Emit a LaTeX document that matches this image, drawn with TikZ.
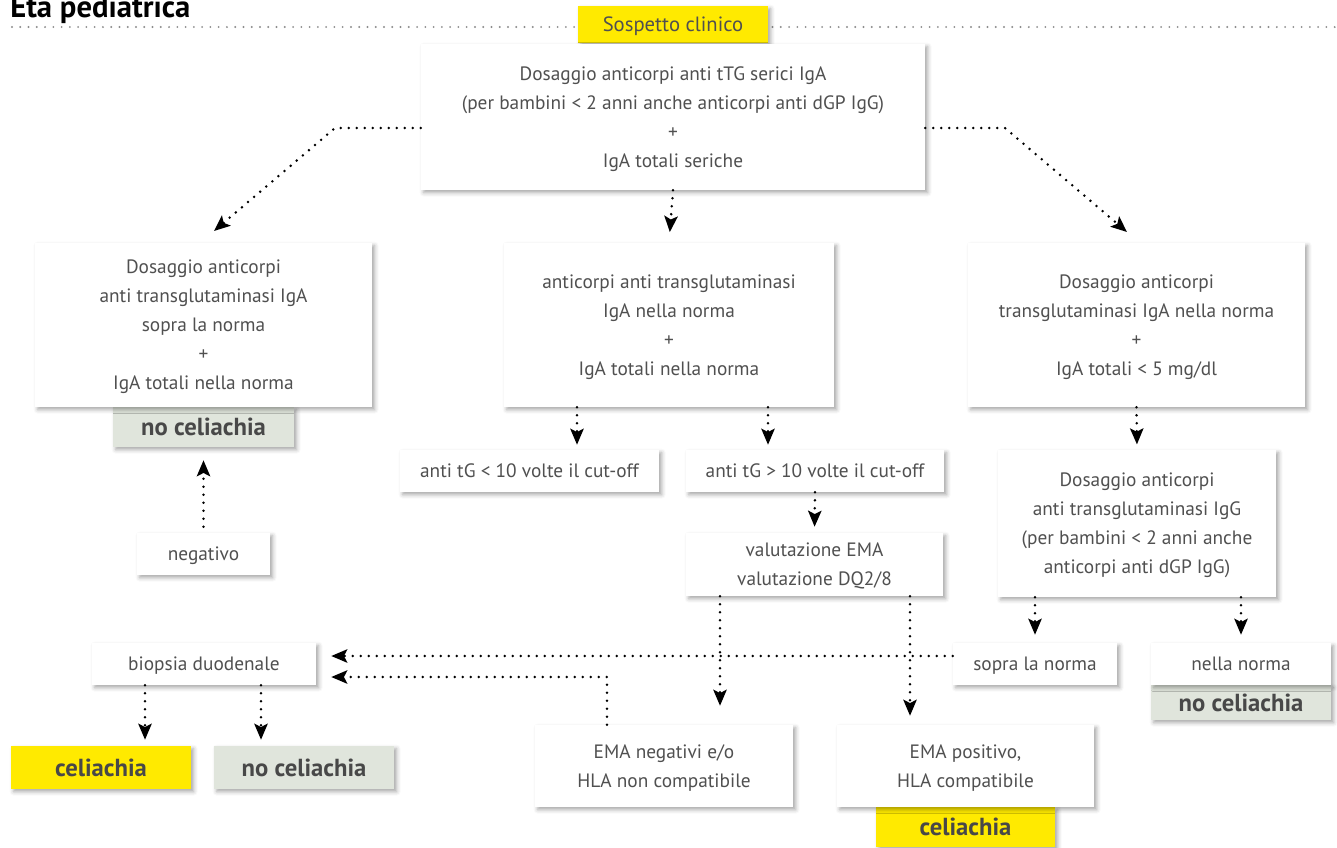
\documentclass[tikz,border=0pt]{standalone}
\usepackage{fontspec}
\setmainfont{PT Sans}
\usepackage{xcolor}
\usepackage{tikz}
\usetikzlibrary{arrows.meta,shadows.blur}
\definecolor{ylw}{RGB}{255, 234, 0}
\definecolor{nogray}{RGB}{224, 229, 220}
\definecolor{txtgray}{RGB}{80, 80, 80}
\definecolor{boldgray}{RGB}{72, 72, 72}
\definecolor{dotgray}{RGB}{140, 140, 140}

\tikzset{
  box/.style = {fill = white, text = txtgray, align = center, inner sep = 0pt,
    text depth = 0pt, font = \fontsize{14.5}{21.75}\selectfont,
    blur shadow = {shadow xshift = 2pt, shadow yshift = -2pt,
      shadow blur radius = 3pt, shadow opacity = 35}},
  tag/.style = {box, fill = ylw, font = \fontsize{15.5}{21}\selectfont},
  yesbox/.style = {box, fill = ylw, text = boldgray,
    font = \fontsize{18.5}{21}\selectfont\bfseries},
  nobox/.style = {yesbox, fill = nogray},
  title/.style = {inner sep = 0pt, font = \fontsize{23}{25}\selectfont\bfseries},
  header/.style = {dotgray, line width = 1.6pt, line cap = round,
    dash pattern = on 0pt off 6.2pt},
  link/.style = {line width = 2.1pt, line cap = round,
    dash pattern = on 0pt off 6pt,
    -{Stealth[length = 12pt, width = 10pt, inset = 2.5pt]}}
}

\begin{document}
\begin{tikzpicture}[x = 0.75pt, y = -0.75pt]
  \useasboundingbox (0,0) rectangle (1337,847);
  % header
  \node[title, anchor = base west] (title) at (10,17) {Età pediatrica};
  \coordinate (hl) at (12,27);
  \coordinate (hr) at (1337,27);
  \draw[header] (hl) -- (hr);
  \node[tag, minimum width = 142.5pt, minimum height = 27.75pt] (susp) at (673,24.5) {Sospetto clinico};
  \node[box, minimum width = 378pt, minimum height = 109.5pt] (main) at (673,117)
    {Dosaggio anticorpi anti tTG serici IgA\\(per bambini < 2 anni anche anticorpi anti dGP IgG)\\+\\IgA totali seriche};

  % second row
  \node[nobox, minimum width = 135.75pt, minimum height = 30pt] (l1no) at (203.5,427) {no celiachia};
  \node[box, minimum width = 252.75pt, minimum height = 123pt] (l1) at (203.5,325)
    {Dosaggio anticorpi\\anti transglutaminasi IgA\\sopra la norma\\+\\IgA totali nella norma};
  \node[box, minimum width = 247.5pt, minimum height = 123pt] (m1) at (669,325)
    {anticorpi anti transglutaminasi\\IgA nella norma\\+\\IgA totali nella norma};
  \node[box, minimum width = 252.75pt, minimum height = 123pt] (r1) at (1136.5,325)
    {Dosaggio anticorpi\\transglutaminasi IgA nella norma\\+\\IgA totali < 5 mg/dl};

  % third row
  \node[box, minimum width = 194.25pt, minimum height = 31.5pt] (lo) at (529.5,471) {anti tG < 10 volte il cut-off};
  \node[box, minimum width = 193.5pt, minimum height = 31.5pt] (hi) at (815,471) {anti tG > 10 volte il cut-off};
  \node[box, minimum width = 192.75pt, minimum height = 47.25pt] (ema) at (814.5,564.5) {valutazione EMA\\valutazione DQ2/8};
  \node[box, minimum width = 208.5pt, minimum height = 110.25pt] (r2) at (1137,523.5)
    {Dosaggio anticorpi\\anti transglutaminasi IgG\\(per bambini < 2 anni anche\\anticorpi anti dGP IgG)};
  \node[box, minimum width = 99.75pt, minimum height = 31.5pt] (neg) at (203.5,554) {negativo};

  % fourth row
  \node[box, minimum width = 168pt, minimum height = 31.5pt] (biop) at (204,664) {biopsia duodenale};
  \node[box, minimum width = 123pt, minimum height = 31.5pt] (sopra) at (1035,664) {sopra la norma};
  \node[nobox, minimum width = 135pt, minimum height = 26.25pt] (nellano) at (1241,702.5) {no celiachia};
  \node[box, minimum width = 135pt, minimum height = 31.5pt] (nella) at (1241,664) {nella norma};

  % bottom row
  \node[yesbox, minimum width = 135pt, minimum height = 32.25pt] (bioyes) at (101,767.5) {celiachia};
  \node[nobox, minimum width = 135pt, minimum height = 32.25pt] (biono) at (304,767.5) {no celiachia};
  \node[yesbox, minimum width = 134.25pt, minimum height = 30pt] (posyes) at (965.5,827) {celiachia};
  \node[box, minimum width = 193.5pt, minimum height = 61.5pt] (emaneg) at (664,766) {EMA negativi e/o\\HLA non compatibile};
  \node[box, minimum width = 192.75pt, minimum height = 61.5pt] (emapos) at (965.5,766) {EMA positivo,\\HLA compatibile};

  % connectors
  \coordinate (lbend) at (335,128);
  \coordinate (ltip) at (214,231);
  \coordinate (rbend) at (1005,128);
  \coordinate (rtip) at (1127,232);
  \coordinate (lox) at (577,0);
  \coordinate (hix) at (768,0);
  \coordinate (negx) at (720,0);
  \coordinate (posx) at (910,0);
  \coordinate (yesx) at (145,0);
  \coordinate (nox) at (261,0);
  \coordinate (row1) at (0,656);
  \coordinate (nbend) at (607,677);
  \draw[link] (lbend -| main.west) -- (lbend) -- (ltip);
  \draw[link] (rbend -| main.east) -- (rbend) -- (rtip);
  \draw[link, shorten > = 8pt] (main.south) -- (m1.north);
  \draw[link, shorten > = 3.75pt] (m1.south -| lox) -- (lo.north -| lox);
  \draw[link, shorten > = 3.75pt] (m1.south -| hix) -- (hi.north -| hix);
  \draw[link, shorten > = 4.5pt] (hi.south) -- (ema.north);
  \draw[link, shorten > = 4pt] (r1.south) -- (r2.north);
  \draw[link, shorten > = 6pt] (r2.south -| sopra) -- (sopra.north);
  \draw[link, shorten > = 6pt] (r2.south -| nella) -- (nella.north);
  \draw[link, shorten < = 4.5pt, shorten > = 9.75pt] (neg.north) -- (l1no.south);
  \draw[link, shorten > = 11.25pt] (sopra.west |- row1) -- (biop.east |- row1);
  \draw[link, shorten > = 11.25pt] (emaneg.north -| nbend) -- (nbend) -- (biop.east |- nbend);
  \draw[link, shorten > = 14.25pt] (ema.south -| negx) -- (emaneg.north -| negx);
  \draw[link, shorten > = 6.75pt] (ema.south -| posx) -- (emapos.north -| posx);
  \draw[link, shorten > = 4.5pt] (biop.south -| yesx) -- (bioyes.north -| yesx);
  \draw[link, shorten > = 4.5pt] (biop.south -| nox) -- (biono.north -| nox);
\end{tikzpicture}
\end{document}
